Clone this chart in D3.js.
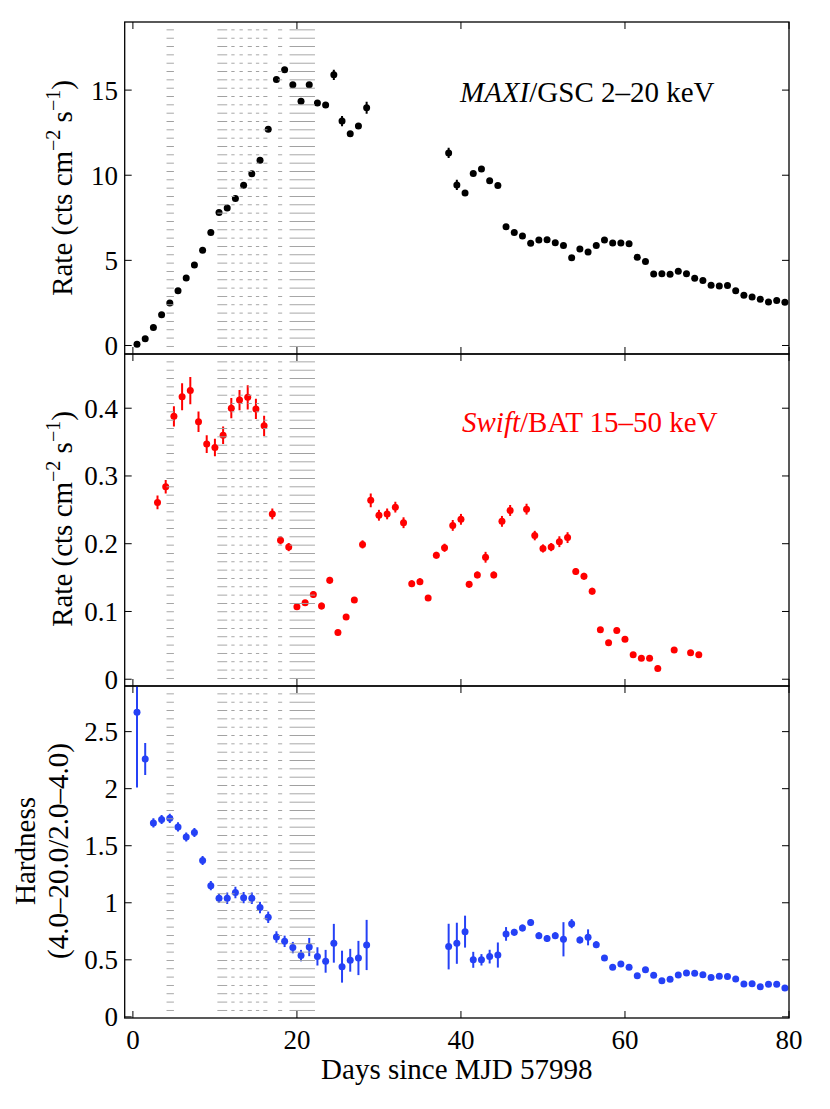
<!DOCTYPE html>
<html>
<head>
<meta charset="utf-8">
<script src="https://cdnjs.cloudflare.com/ajax/libs/d3/7.8.5/d3.min.js"></script>
<style>
	body { margin: 0; background: #fff; }
	svg text { font-family: "Liberation Serif", "Times New Roman", Times, serif; }
</style>
</head>
<body>
<div id="chart"></div>
<script>
// MAXI/GSC 2-20 keV, daily bins
var maxiDays = [0.5, 1.5, 2.5, 3.5, 4.5, 5.5, 6.5, 7.5, 8.5, 9.5, 10.5, 11.5, 12.5, 13.5, 14.5,
	15.5, 16.5, 17.5, 18.5, 19.5, 20.5, 21.5, 22.5, 23.5, 24.5, 25.5, 26.5, 27.5, 28.5,
	38.5, 39.5, 40.5, 41.5, 42.5, 43.5, 44.5, 45.5, 46.5, 47.5, 48.5, 49.5, 50.5, 51.5, 52.5,
	53.5, 54.5, 55.5, 56.5, 57.5, 58.5, 59.5, 60.5, 61.5, 62.5, 63.5, 64.5, 65.5, 66.5, 67.5,
	68.5, 69.5, 70.5, 71.5, 72.5, 73.5, 74.5, 75.5, 76.5, 77.5, 78.5, 79.5];
var maxiRate = [0.08, 0.39, 1.05, 1.80, 2.50, 3.22, 3.97, 4.73, 5.59, 6.64, 7.81, 8.07, 8.63, 9.41, 10.08,
	10.88, 12.70, 15.62, 16.19, 15.31, 14.35, 15.31, 14.24, 14.12, 15.90, 13.18, 12.43, 12.89, 13.96,
	11.31, 9.43, 8.96, 10.10, 10.37, 9.67, 9.40, 6.97, 6.64, 6.43, 6.00, 6.19, 6.21, 6.03, 5.88,
	5.16, 5.66, 5.49, 5.88, 6.19, 6.02, 6.02, 5.98, 5.18, 4.94, 4.20, 4.22, 4.18, 4.36, 4.22,
	3.95, 3.81, 3.54, 3.50, 3.52, 3.22, 2.95, 2.85, 2.72, 2.56, 2.64, 2.54];
var maxiErr = [0.05, 0.05, 0.06, 0.07, 0.08, 0.08, 0.09, 0.09, 0.1, 0.1, 0.1, 0.1, 0.1, 0.1, 0.1,
	0.1, 0.15, 0.15, 0.15, 0.15, 0.15, 0.15, 0.15, 0.15, 0.3, 0.3, 0.15, 0.15, 0.35,
	0.3, 0.3, 0.15, 0.15, 0.15, 0.15, 0.15, 0.1, 0.1, 0.1, 0.1, 0.1, 0.1, 0.1, 0.1,
	0.1, 0.1, 0.1, 0.1, 0.1, 0.1, 0.1, 0.1, 0.1, 0.1, 0.1, 0.1, 0.1, 0.1, 0.1,
	0.1, 0.1, 0.1, 0.1, 0.1, 0.1, 0.1, 0.1, 0.1, 0.1, 0.1, 0.1];

// Swift/BAT 15-50 keV
var batDays = [3, 4, 5, 6, 7, 8, 9, 10, 11, 12, 13, 14, 15, 16, 17, 18, 19, 20, 21, 22, 23, 24, 25,
	26, 27, 28, 29, 30, 31, 32, 33, 34, 35, 36, 37, 38, 39, 40, 41, 42, 43, 44, 45, 46,
	48, 49, 50, 51, 52, 53, 54, 55, 56, 57, 58, 59, 60, 61, 62, 63, 64, 66, 68, 69];
var batRate = [0.261, 0.284, 0.388, 0.417, 0.426, 0.380, 0.347, 0.342, 0.360, 0.400, 0.412, 0.416,
	0.399, 0.374, 0.244, 0.205, 0.195, 0.107, 0.113, 0.125, 0.108, 0.146, 0.069,
	0.092, 0.117, 0.199, 0.264, 0.242, 0.244, 0.254, 0.231, 0.141, 0.144, 0.120, 0.183, 0.194,
	0.227, 0.236, 0.140, 0.154, 0.180, 0.154, 0.233, 0.249,
	0.251, 0.212, 0.193, 0.195, 0.203, 0.209, 0.159, 0.152, 0.130, 0.073, 0.054, 0.072, 0.059,
	0.036, 0.031, 0.031, 0.016, 0.043, 0.039, 0.036];
var batErr = [0.010, 0.010, 0.015, 0.020, 0.020, 0.015, 0.013, 0.013, 0.013, 0.015, 0.015, 0.018,
	0.015, 0.015, 0.008, 0.006, 0.006, 0.004, 0.004, 0.005, 0.005, 0.005, 0.004,
	0.004, 0.004, 0.006, 0.010, 0.008, 0.008, 0.008, 0.008, 0.005, 0.005, 0.004, 0.005, 0.006,
	0.008, 0.008, 0.005, 0.005, 0.008, 0.005, 0.008, 0.008,
	0.008, 0.007, 0.006, 0.006, 0.008, 0.008, 0.005, 0.005, 0.005, 0.004, 0.004, 0.004, 0.004,
	0.004, 0.004, 0.004, 0.004, 0.004, 0.004, 0.004];

// hardness ratio (4.0-20.0 keV / 2.0-4.0 keV)
var hardDays = maxiDays;
var hardness = [2.67, 2.26, 1.70, 1.73, 1.74, 1.665, 1.577, 1.616, 1.37, 1.15, 1.04, 1.04, 1.09, 1.045, 1.04,
	0.958, 0.873, 0.70, 0.662, 0.607, 0.537, 0.612, 0.53, 0.487, 0.645, 0.44, 0.496, 0.516, 0.63,
	0.616, 0.645, 0.747, 0.50, 0.50, 0.528, 0.542, 0.727, 0.741, 0.779, 0.826, 0.712, 0.686, 0.712, 0.68,
	0.817, 0.674, 0.697, 0.633, 0.516, 0.434, 0.463, 0.434, 0.361, 0.414, 0.364, 0.317, 0.329, 0.367, 0.384,
	0.382, 0.370, 0.344, 0.355, 0.353, 0.332, 0.288, 0.291, 0.265, 0.285, 0.285, 0.253];
var hardErr = [0.66, 0.14, 0.04, 0.04, 0.04, 0.04, 0.04, 0.04, 0.04, 0.04, 0.04, 0.05, 0.05, 0.05, 0.05,
	0.05, 0.05, 0.05, 0.05, 0.05, 0.05, 0.08, 0.08, 0.10, 0.17, 0.14, 0.10, 0.15, 0.22,
	0.20, 0.18, 0.14, 0.07, 0.05, 0.06, 0.11, 0.06, 0.03, 0.03, 0.03, 0.03, 0.03, 0.03, 0.15,
	0.04, 0.03, 0.07, 0.03, 0.02, 0.02, 0.02, 0.02, 0.02, 0.02, 0.02, 0.02, 0.02, 0.02, 0.02,
	0.02, 0.02, 0.02, 0.02, 0.02, 0.02, 0.02, 0.02, 0.02, 0.02, 0.02, 0.02];

// hatched observation windows (days)
var windowStart = [4.1, 10.3, 12.0, 13.0, 14.0, 15.0, 15.9, 17.7, 19.1];
var windowEnd = [5.0, 11.5, 12.4, 13.4, 14.5, 15.4, 16.4, 18.2, 22.2];

var xTicks = [0, 20, 40, 60, 80];
var maxiTicks = [0, 5, 10, 15];
var batTicks = [0, 0.1, 0.2, 0.3, 0.4];
var hardTicks = [0, 0.5, 1, 1.5, 2, 2.5];
var hardTickLabels = ["0", "0.5", "1", "1.5", "2", "2.5"];

var serif = "'Liberation Serif', 'Times New Roman', Times, serif";
var width = 830;
var height = 1109;
var left = 124.7, right = 789;
var panelTop = [22, 354, 686];
var panelH = 332;
var tickLen = 7;
var markR = 3.5;

var svg = d3.select("#chart")
			.append("svg")
			.attr("width", width)
			.attr("height", height)
			.attr("font-family", serif);

var defs = svg.append("defs");
var hatch = defs.append("pattern")
	.attr("id", "hatch")
	.attr("patternUnits", "userSpaceOnUse")
	.attr("width", 10)
	.attr("height", 8.33);
hatch.append("rect")
	.attr("x", 0).attr("y", 7.4)
	.attr("width", 10).attr("height", 1.3)
	.attr("fill", "#a0a0a0");

var x = d3.scaleLinear().domain([-1, 80]).range([left, right]);

function zip(xs, ys, es) {
	return xs.map(function(d, i) { return {x: d, y: ys[i], e: es[i]}; });
}

function drawPanel(idx, yDomain, ticks, tickLabels, points, colour) {
	var top = panelTop[idx];
	var y = d3.scaleLinear().domain(yDomain).range([panelH, 0]);
	var g = svg.append("g").attr("transform", "translate(0," + top + ")");

	defs.append("clipPath")
		.attr("id", "clip" + idx)
		.append("rect")
		.attr("x", left).attr("y", 0)
		.attr("width", right - left).attr("height", panelH);

	var plot = g.append("g").attr("clip-path", "url(#clip" + idx + ")");

	plot.selectAll(".err")
		.data(points)
		.enter()
		.append("line")
		.attr("x1", function(d) { return x(d.x); })
		.attr("x2", function(d) { return x(d.x); })
		.attr("y1", function(d) { return y(d.y - d.e); })
		.attr("y2", function(d) { return y(d.y + d.e); })
		.attr("stroke", colour)
		.attr("stroke-width", 2);

	plot.selectAll(".pt")
		.data(points)
		.enter()
		.append("circle")
		.attr("cx", function(d) { return x(d.x); })
		.attr("cy", function(d) { return y(d.y); })
		.attr("r", markR)
		.attr("fill", colour);

	// observation windows
	plot.selectAll(".win")
		.data(windowStart)
		.enter()
		.append("rect")
		.attr("x", function(d) { return x(d); })
		.attr("width", function(d, i) { return x(windowEnd[i]) - x(d); })
		.attr("y", 0)
		.attr("height", panelH)
		.attr("fill", "url(#hatch)");

	// ticks, all four sides pointing inwards
	var tk = g.append("g").attr("stroke", "#000").attr("stroke-width", 1);
	ticks.forEach(function(t) {
		tk.append("line").attr("x1", left).attr("x2", left + tickLen)
			.attr("y1", y(t)).attr("y2", y(t));
		tk.append("line").attr("x1", right).attr("x2", right - tickLen)
			.attr("y1", y(t)).attr("y2", y(t));
	});
	xTicks.forEach(function(t) {
		tk.append("line").attr("x1", x(t)).attr("x2", x(t))
			.attr("y1", 0).attr("y2", tickLen);
		tk.append("line").attr("x1", x(t)).attr("x2", x(t))
			.attr("y1", panelH).attr("y2", panelH - tickLen);
	});

	g.selectAll(".ylab")
		.data(ticks)
		.enter()
		.append("text")
		.attr("x", 118)
		.attr("y", function(d) { return y(d); })
		.attr("dy", "0.35em")
		.attr("text-anchor", "end")
		.attr("font-family", serif)
		.attr("font-size", 27)
		.text(function(d, i) { return tickLabels[i]; });

	g.append("rect")
		.attr("x", left).attr("y", 0)
		.attr("width", right - left).attr("height", panelH)
		.attr("fill", "none")
		.attr("stroke", "#000")
		.attr("stroke-width", 1.3);

	return g;
}

var g1 = drawPanel(0, [-0.5, 19], maxiTicks, maxiTicks.map(String),
	zip(maxiDays, maxiRate, maxiErr), "#000");
var g2 = drawPanel(1, [-0.01, 0.48], batTicks, batTicks.map(String),
	zip(batDays, batRate, batErr), "#ff0000");
var g3 = drawPanel(2, [-0.01, 2.9], hardTicks, hardTickLabels,
	zip(hardDays, hardness, hardErr), "#2541f6");

// x tick labels
svg.selectAll(".xlab")
	.data(xTicks)
	.enter()
	.append("text")
	.attr("x", function(d) { return x(d); })
	.attr("y", 1049)
	.attr("text-anchor", "middle")
	.attr("font-family", serif)
	.attr("font-size", 27)
	.text(function(d) { return d; });

svg.append("text")
	.attr("x", (left + right) / 2)
	.attr("y", 1079)
	.attr("text-anchor", "middle")
	.attr("font-family", serif)
	.attr("font-size", 29)
	.text("Days since MJD 57998");

function rateLabel(cy) {
	var t = svg.append("text")
		.attr("transform", "translate(72," + cy + ") rotate(-90)")
		.attr("text-anchor", "middle")
		.attr("font-family", serif)
		.attr("font-size", 29);
	t.append("tspan").text("Rate (cts cm");
	t.append("tspan").attr("dy", -12).attr("font-size", 20).text("\u22122");
	t.append("tspan").attr("dy", 12).text(" s");
	t.append("tspan").attr("dy", -12).attr("font-size", 20).text("\u22121");
	t.append("tspan").attr("dy", 12).text(")");
}
rateLabel(188);
rateLabel(519);

svg.append("text")
	.attr("transform", "translate(35,851) rotate(-90)")
	.attr("text-anchor", "middle")
	.attr("font-family", serif)
	.attr("font-size", 29)
	.text("Hardness");
svg.append("text")
	.attr("transform", "translate(68,851) rotate(-90)")
	.attr("text-anchor", "middle")
	.attr("font-family", serif)
	.attr("font-size", 29)
	.text("(4.0\u201320.0/2.0\u20134.0)");

var l1 = svg.append("text")
	.attr("x", 460)
	.attr("y", 102)
	.attr("font-family", serif)
	.attr("font-size", 29);
l1.append("tspan").attr("font-style", "italic").text("MAXI");
l1.append("tspan").text("/GSC 2\u201320 keV");

var l2 = svg.append("text")
	.attr("x", 462)
	.attr("y", 432)
	.attr("font-family", serif)
	.attr("font-size", 29)
	.attr("fill", "#ff0000");
l2.append("tspan").attr("font-style", "italic").text("Swift");
l2.append("tspan").text("/BAT 15\u201350 keV");
</script>
</body>
</html>
